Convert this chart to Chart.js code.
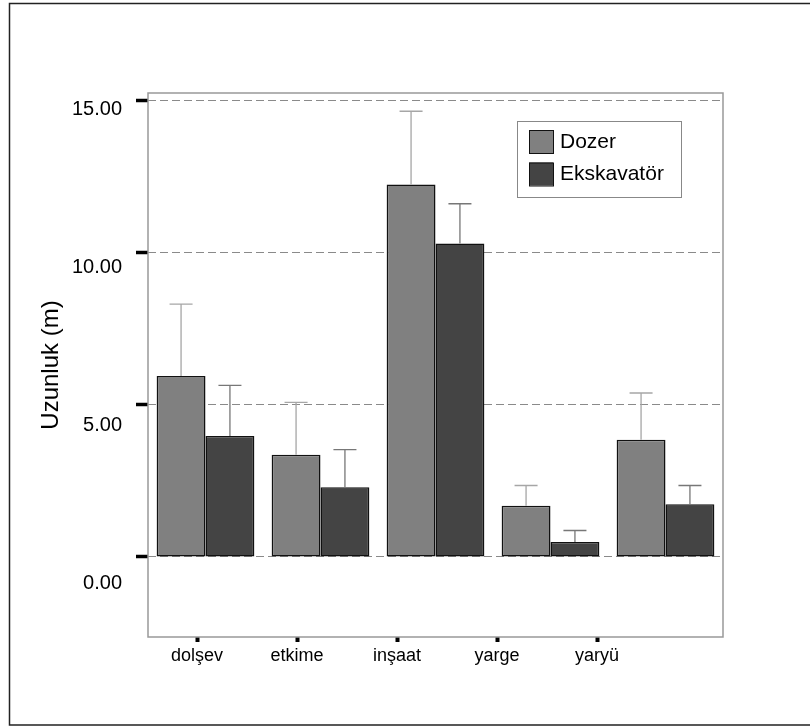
<!DOCTYPE html>
<html>
<head>
<meta charset="utf-8">
<script src="https://cdn.jsdelivr.net/npm/chart.js@4/dist/chart.umd.min.js"></script>
<style>
  html, body { margin: 0; padding: 0; background: #fff; }
  #wrap { width: 810px; height: 727px; position: relative; }
</style>
</head>
<body>
<div id="wrap"><canvas id="graphe"></canvas></div>
<script>
// les donnees
const categories = ['dolşev', 'etkime', 'inşaat', 'yarge', 'yaryü']
const dozerMoy = [5.95, 3.36, 12.24, 1.68, 3.85]
const dozerHaut = [8.31, 5.08, 14.65, 2.35, 5.39]
const ekskMoy = [3.98, 2.29, 10.30, 0.49, 1.73]
const ekskHaut = [5.64, 3.53, 11.61, 0.87, 2.35]
const yTicks = [0, 5, 10, 15]
const yTickLabels = ['0.00', '5.00', '10.00', '15.00']
const xTicks = [0, 1, 2, 3, 4]

const police = "'Liberation Sans', Arial, sans-serif"

// cadre exterieur + cadre du graphe
const cadres = {
    id: 'cadres',
    beforeDatasetsDraw(chart) {
        const ctx = chart.ctx
        const a = chart.chartArea
        ctx.save()
        ctx.strokeStyle = '#999999'
        ctx.lineWidth = 1.5
        ctx.strokeRect(a.left, a.top, a.right - a.left, a.bottom - a.top)
        ctx.restore()
    },
    afterDraw(chart) {
        const ctx = chart.ctx
        ctx.save()
        ctx.strokeStyle = '#222'
        ctx.lineWidth = 1.5
        ctx.beginPath()
        ctx.moveTo(812, 3.5)
        ctx.lineTo(9.5, 3.5)
        ctx.lineTo(9.5, 725)
        ctx.lineTo(812, 725)
        ctx.stroke()
        ctx.restore()
    }
}

// barres d'erreur (haut seulement)
const barresErreur = {
    id: 'barresErreur',
    afterDatasetsDraw(chart) {
        const ctx = chart.ctx
        const y = chart.scales.y
        chart.data.datasets.forEach((ds, i) => {
            const meta = chart.getDatasetMeta(i)
            meta.data.forEach((bar, j) => {
                const top = y.getPixelForValue(ds.erreur[j])
                ctx.save()
                ctx.strokeStyle = ds.couleurErreur
                ctx.lineWidth = 1.3
                ctx.beginPath()
                ctx.moveTo(bar.x, bar.y)
                ctx.lineTo(bar.x, top)
                ctx.moveTo(bar.x - 11.5, top)
                ctx.lineTo(bar.x + 11.5, top)
                ctx.stroke()
                ctx.restore()
            })
        })
    }
}

// legende dans la zone du graphe
const legende = {
    id: 'legende',
    afterDraw(chart) {
        const ctx = chart.ctx
        const x0 = 517, y0 = 121, w = 164, h = 76
        ctx.save()
        ctx.fillStyle = '#fff'
        ctx.fillRect(x0, y0, w, h)
        ctx.strokeStyle = '#888'
        ctx.lineWidth = 1
        ctx.strokeRect(x0 + 0.5, y0 + 0.5, w, h)
        ctx.font = '21px ' + police
        ctx.textBaseline = 'middle'
        chart.data.datasets.forEach((ds, i) => {
            const sy = 130 + i * 32.5
            ctx.fillStyle = ds.backgroundColor
            ctx.fillRect(529, sy, 24, 23)
            ctx.strokeStyle = '#111'
            ctx.lineWidth = 1
            ctx.strokeRect(529.5, sy + 0.5, 24, 23)
            ctx.fillStyle = '#000'
            ctx.fillText(ds.label, 560, sy + 12)
        })
        ctx.restore()
    }
}

const graphe = document.querySelector('#graphe')
if (graphe) {
    const chart = new Chart(graphe, {
        type: 'bar',
        data: {
            labels: categories,
            datasets: [{
                label: 'Dozer',
                data: dozerMoy,
                erreur: dozerHaut,
                backgroundColor: '#808080',
                couleurErreur: '#a6a6a6',
                borderColor: '#111',
                borderWidth: 1.5,
                borderSkipped: false,
                categoryPercentage: 0.85,
                barPercentage: 1
            }, {
                label: 'Ekskavatör',
                data: ekskMoy,
                erreur: ekskHaut,
                backgroundColor: '#444444',
                couleurErreur: '#777777',
                borderColor: '#111',
                borderWidth: 1.5,
                borderSkipped: false,
                categoryPercentage: 0.85,
                barPercentage: 1
            }]
        },
        options: {
            responsive: true,
            maintainAspectRatio: false,
            animation: false,
            layout: { padding: { top: 93, right: 87, left: 0, bottom: 0 } },
            plugins: { legend: { display: false }, tooltip: { enabled: false } },
            scales: {
                x: { display: false },
                xLab: {
                    type: 'linear',
                    position: 'bottom',
                    offset: false,
                    min: -0.49,
                    max: 5.26,
                    afterBuildTicks: (axis) => { axis.ticks = xTicks.map(v => ({ value: v })) },
                    afterFit: (axis) => { axis.height = 90 },
                    border: { display: false },
                    grid: {
                        offset: false,
                        drawOnChartArea: false,
                        tickLength: 5,
                        tickWidth: 4,
                        tickColor: '#000'
                    },
                    ticks: {
                        autoSkip: false,
                        maxRotation: 0,
                        minRotation: 0,
                        padding: 3,
                        color: '#000',
                        font: { family: police, size: 18 },
                        callback: (v) => categories[v]
                    }
                },
                y: {
                    type: 'linear',
                    position: 'left',
                    weight: 0,
                    min: -2.63,
                    max: 15.25,
                    afterBuildTicks: (axis) => { axis.ticks = yTicks.map(v => ({ value: v })) },
                    afterFit: (axis) => { axis.width = 12 },
                    border: { display: false, dash: [8, 4] },
                    grid: {
                        color: '#8a8a8a',
                        lineWidth: 1,
                        tickLength: 12,
                        tickWidth: 3.5,
                        tickColor: '#000',
                        tickBorderDash: []
                    },
                    ticks: { display: false }
                },
                yLab: {
                    type: 'linear',
                    position: 'left',
                    weight: 10,
                    min: -1.70,
                    max: 15.52,
                    afterBuildTicks: (axis) => { axis.ticks = yTicks.map(v => ({ value: v })) },
                    afterFit: (axis) => { axis.width = 136 },
                    border: { display: false },
                    grid: { display: false, drawTicks: false },
                    ticks: {
                        padding: 14,
                        color: '#000',
                        font: { family: police, size: 20 },
                        callback: (v) => yTickLabels[yTicks.indexOf(v)]
                    },
                    title: {
                        display: true,
                        text: 'Uzunluk (m)',
                        color: '#000',
                        font: { family: police, size: 24 },
                        padding: { top: 37, bottom: 0 }
                    }
                }
            }
        },
        plugins: [cadres, barresErreur, legende]
    })
}
</script>
</body>
</html>
